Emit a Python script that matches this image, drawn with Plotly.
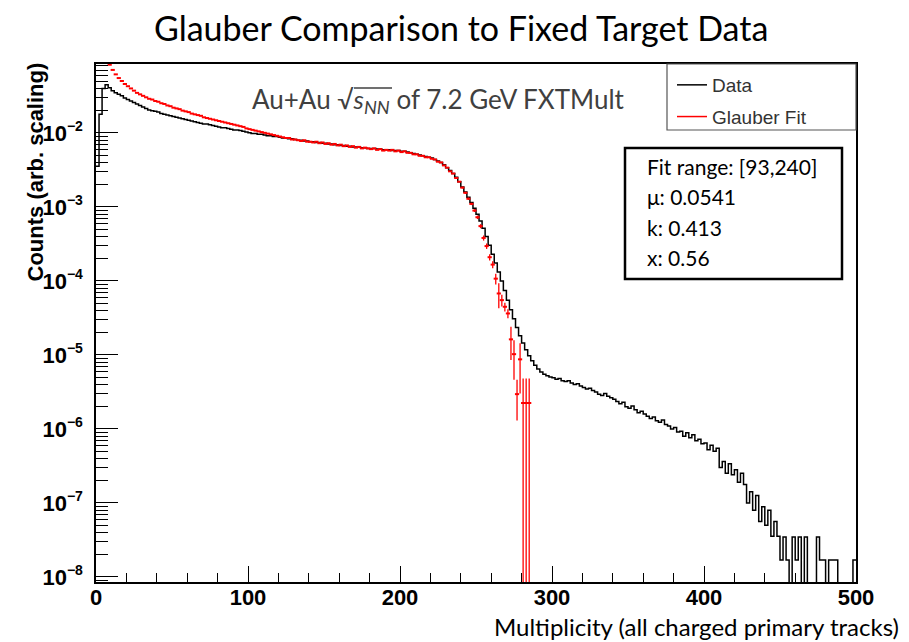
import numpy as np
import plotly.graph_objects as go

# ---------------- data ----------------
bin_width = 2
x_lo, x_hi = 0, 500

# Data histogram, log10(counts) per 2-unit multiplicity bin (None = empty bin)
data_log10 = [
    -2.45, -1.75, -1.40, -1.35, -1.39, -1.43, -1.46, -1.48, -1.50, -1.53,
    -1.55, -1.57, -1.59, -1.61, -1.63, -1.65, -1.67, -1.69, -1.70, -1.71,
    -1.72, -1.74, -1.75, -1.76, -1.77, -1.78, -1.79, -1.80, -1.81, -1.82,
    -1.83, -1.84, -1.85, -1.86, -1.87, -1.88, -1.88, -1.89, -1.90, -1.91,
    -1.92, -1.93, -1.93, -1.94, -1.95, -1.96, -1.96, -1.97, -1.98, -1.99,
    -2.00, -2.01, -2.01, -2.02, -2.02, -2.03, -2.04, -2.04, -2.05, -2.05,
    -2.06, -2.07, -2.07, -2.08, -2.08, -2.09, -2.10, -2.10, -2.11, -2.11,
    -2.12, -2.12, -2.13, -2.13, -2.14, -2.14, -2.15, -2.15, -2.16, -2.16,
    -2.17, -2.17, -2.18, -2.18, -2.19, -2.19, -2.19, -2.20, -2.20, -2.21,
    -2.21, -2.21, -2.22, -2.22, -2.23, -2.23, -2.23, -2.24, -2.24, -2.24,
    -2.25, -2.25, -2.26, -2.27, -2.28, -2.29, -2.30, -2.31, -2.32, -2.33,
    -2.34, -2.36, -2.38, -2.40, -2.43, -2.47, -2.51, -2.55, -2.60, -2.66,
    -2.73, -2.80, -2.87, -2.94, -3.02, -3.10, -3.19, -3.29, -3.40, -3.52,
    -3.64, -3.76, -3.88, -4.00, -4.13, -4.26, -4.39, -4.51, -4.63, -4.74,
    -4.84, -4.93, -5.01, -5.08, -5.14, -5.19, -5.23, -5.26, -5.28, -5.30,
    -5.31, -5.33, -5.32, -5.35, -5.36, -5.35, -5.38, -5.40, -5.39, -5.42,
    -5.44, -5.46, -5.45, -5.48, -5.50, -5.53, -5.55, -5.52, -5.56, -5.58,
    -5.60, -5.63, -5.66, -5.64, -5.70, -5.72, -5.69, -5.74, -5.78, -5.76,
    -5.80, -5.83, -5.86, -5.84, -5.89, -5.91, -5.88, -5.94, -5.96, -6.00,
    -5.98, -6.04, -6.03, -6.10, -6.05, -6.12, -6.08, -6.16, -6.14, -6.20,
    -6.19, -6.28, -6.22, -6.30, -6.26, -6.52, -6.44, -6.60, -6.47, -6.62,
    -6.55, -6.72, -6.60, -6.75, -7.00, -6.85, -7.10, -6.90, -7.25, -7.05,
    -7.30, -7.10, -7.45, -7.25, -7.45, -7.77, -7.46, -7.77, None, -7.46,
    -7.77, -7.46, None, -7.46, None, None, None, -7.46, -7.77, -7.77,
    None, -7.77, -7.77, -7.77, None, None, None, None, None, -7.77,
]

# Glauber fit, log10(value) per 2-unit bin starting at multiplicity 0
fit_log10 = [
    -0.45, -0.70, -0.86, -0.98, -1.08, -1.15, -1.21, -1.26, -1.30, -1.34,
    -1.37, -1.40, -1.43, -1.46, -1.48, -1.50, -1.52, -1.54, -1.55, -1.57,
    -1.58, -1.60, -1.61, -1.63, -1.64, -1.66, -1.67, -1.68, -1.70, -1.71,
    -1.72, -1.74, -1.75, -1.76, -1.77, -1.79, -1.80, -1.81, -1.82, -1.83,
    -1.84, -1.85, -1.86, -1.87, -1.88, -1.89, -1.90, -1.91, -1.92, -1.94,
    -1.95, -1.96, -1.97, -1.98, -1.99, -2.00, -2.01, -2.02, -2.03, -2.04,
    -2.05, -2.06, -2.07, -2.07, -2.09, -2.09, -2.10, -2.11, -2.10, -2.12,
    -2.12, -2.13, -2.12, -2.14, -2.13, -2.15, -2.14, -2.16, -2.15, -2.17,
    -2.16, -2.18, -2.17, -2.19, -2.18, -2.20, -2.19, -2.21, -2.20, -2.21,
    -2.22, -2.21, -2.23, -2.22, -2.24, -2.23, -2.24, -2.23, -2.25, -2.24,
    -2.26, -2.25, -2.27, -2.27, -2.29, -2.29, -2.31, -2.31, -2.33, -2.33,
    -2.35, -2.36, -2.39, -2.40, -2.44, -2.47, -2.52, -2.55, -2.61, -2.66,
    -2.74, -2.81, -2.89, -2.96, -3.05, -3.14, -3.26, -3.42, -3.53, -3.68,
    -3.78, -3.97, -4.17, -4.26, -4.35, -4.44, -4.79, -4.99, -5.53, -5.06,
    -5.65, -5.65, -5.65,
]

# absolute errors of the fit histogram, from bin index 120 (multiplicity 240) on
fit_err_first_bin = 120
fit_err_tail = [
    5e-5, 5e-5, 5e-5, 4e-5, 4e-5, 4e-5, 3.5e-5, 3e-5, 2.5e-5, 2e-5,
    1.8e-5, 1.8e-5, 2.5e-5, 1e-5, 6e-6, 5e-6, 7.7e-6, 5.6e-6, 1.65e-6, 5.7e-6,
    2.56e-6, 2.56e-6, 2.56e-6,
]

series_names = ["Data", "Glauber Fit"]
fit_info = ["Fit range: [93,240]", "\u03bc: 0.0541", "k: 0.413", "x: 0.56"]
x_ticks = [0, 100, 200, 300, 400, 500]
y_tick_vals = [1e-8, 1e-7, 1e-6, 1e-5, 1e-4, 1e-3, 1e-2]
y_tick_exps = ["8", "7", "6", "5", "4", "3", "2"]
y_log_range = [-8.068, -1.07]

# ---------------- build ----------------
W, H = 909, 642
ML, MR, MT, MB = 96, 53, 64, 60
PW, PH = W - ML - MR, H - MT - MB


def xp(px):
    return (px - ML) / PW


def yp(py):
    return (H - MB - py) / PH


floor_val = 1e-12  # empty bins drop below the axis floor (as ROOT does)
edges = np.arange(x_lo, x_hi + bin_width, bin_width)
data_vals = [floor_val if v is None else 10 ** v for v in data_log10]
step_x = list(edges)
step_y = data_vals + [data_vals[-1]]

fit_centers = edges[: len(fit_log10)] + bin_width / 2
fit_vals = [10 ** v for v in fit_log10]
fit_err = [0.0] * len(fit_vals)
for i, e in enumerate(fit_err_tail):
    fit_err[fit_err_first_bin + i] = e

y_tick_text = ["10<sup><span style='font-size:14px'>\u2212" + e + "</span></sup>" for e in y_tick_exps]

fig = go.Figure()
fig.add_trace(go.Scatter(
    x=step_x, y=step_y, mode="lines", line=dict(color="black", width=1.5, shape="hv"),
    name=series_names[0], legendgroup="a", showlegend=True,
))
fig.add_trace(go.Scatter(
    x=fit_centers, y=fit_vals, mode="markers",
    marker=dict(symbol="line-ew", size=3, color="red", line=dict(color="red", width=2)),
    error_y=dict(type="data", array=fit_err, visible=True, color="red", thickness=1.3, width=0),
    name=series_names[1], showlegend=False,
))
# legend proxy for the fit (line sample)
fig.add_trace(go.Scatter(
    x=[None], y=[None], mode="lines", line=dict(color="red", width=1.5),
    name=series_names[1], legendgroup="b", showlegend=True,
))

tick_font = dict(family="Liberation Sans", size=22, color="black", weight="bold")
fig.update_xaxes(
    range=[x_lo, x_hi], tickmode="array", tickvals=x_ticks,
    ticks="inside", ticklen=16, tickwidth=1.3, tickcolor="black",
    minor=dict(ticks="inside", ticklen=9, tickwidth=1.3, tickcolor="black", dtick=20, tick0=0),
    showline=True, linecolor="black", linewidth=1.5, mirror=True,
    showgrid=False, zeroline=False, tickfont=tick_font, ticklabelstandoff=-5,
)
fig.update_yaxes(
    type="log", range=y_log_range, tickmode="array", tickvals=y_tick_vals, ticktext=y_tick_text,
    ticks="inside", ticklen=22, tickwidth=1.3, tickcolor="black",
    minor=dict(ticks="inside", ticklen=12, tickwidth=1.3, tickcolor="black", dtick="D1"),
    showline=True, linecolor="black", linewidth=1.5, mirror=True,
    showgrid=False, zeroline=False, tickfont=tick_font, ticklabelstandoff=7,
)

shapes = [
    # legend box
    dict(type="rect", xref="paper", yref="paper", x0=xp(667), x1=xp(856), y0=yp(130), y1=yp(64),
         line=dict(color="#555", width=1.2), fillcolor="rgba(0,0,0,0)"),
    # fit info box
    dict(type="rect", xref="paper", yref="paper", x0=xp(625), x1=xp(842), y0=yp(279), y1=yp(148),
         line=dict(color="black", width=2.5), fillcolor="white", layer="above"),
    # overline of the square root
    dict(type="line", xref="paper", yref="paper", x0=xp(354), x1=xp(392), y0=yp(88), y1=yp(88),
         line=dict(color="#404040", width=1.3)),
]

ann = []
ann.append(dict(text="Glauber Comparison to Fixed Target Data", xref="paper", yref="paper",
                x=xp(461), y=yp(27), xanchor="center", yanchor="middle", showarrow=False,
                font=dict(family="Lato", size=34, color="black")))
ann.append(dict(text="Au+Au \u221a<i>s<sub>NN</sub></i> of 7.2 GeV FXTMult",
                xref="paper", yref="paper", x=xp(250), y=yp(101), xanchor="left", yanchor="middle",
                showarrow=False, font=dict(family="Lato", size=26, color="#404040")))
ann.append(dict(text="Multiplicity (all charged primary tracks)", xref="paper", yref="paper",
                x=xp(901), y=yp(626), xanchor="right", yanchor="middle", showarrow=False,
                font=dict(family="Lato", size=24, color="black")))
ann.append(dict(text="Counts (arb. scaling)", xref="paper", yref="paper",
                x=xp(35), y=yp(61), xanchor="center", yanchor="top", textangle=-90, showarrow=False,
                font=dict(family="Liberation Sans", size=22, color="black", weight="bold")))
for i, line in enumerate(fit_info):
    ann.append(dict(text=line, xref="paper", yref="paper", x=xp(645), y=yp(166 + 30.5 * i),
                    xanchor="left", yanchor="middle", showarrow=False,
                    font=dict(family="Lato", size=21, color="black")))

fig.update_layout(
    width=W, height=H, margin=dict(l=ML, r=MR, t=MT, b=MB),
    paper_bgcolor="white", plot_bgcolor="white",
    shapes=shapes, annotations=ann,
    legend=dict(x=xp(672), y=yp(66), xanchor="left", yanchor="top",
                bgcolor="rgba(0,0,0,0)", borderwidth=0, tracegroupgap=4,
                font=dict(family="Liberation Sans", size=19, color="#333"), itemwidth=30),
    showlegend=True,
)

fig.write_html("out.html")
